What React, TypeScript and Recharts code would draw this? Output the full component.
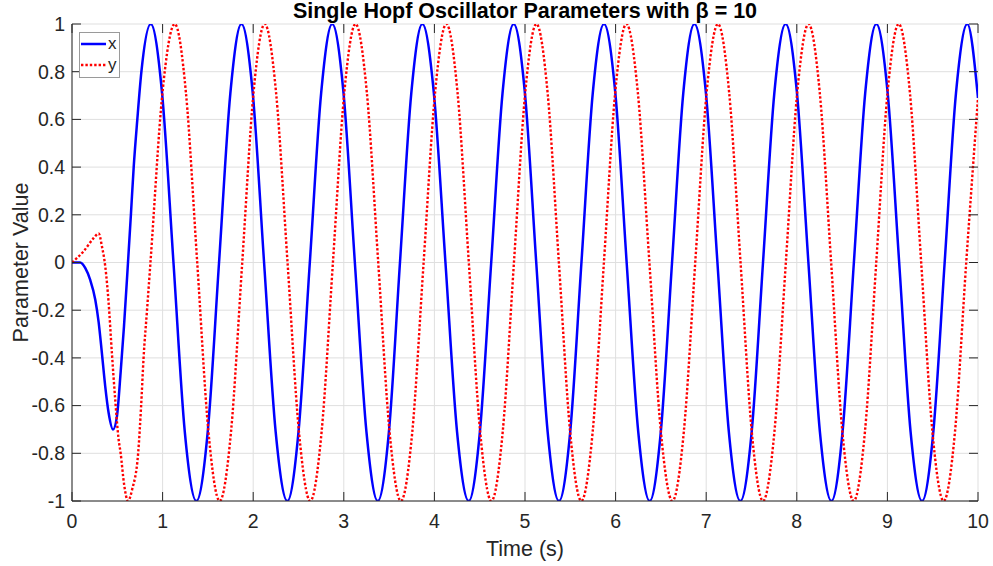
import { LineChart, Line, XAxis, YAxis, CartesianGrid, Legend, Label } from "recharts";

// [time (s), value]
const xSeries: [number, number][] = [
  [0, 0], [0.09, 0], [0.147, -0.024], [0.2, -0.072], [0.257, -0.156], [0.294, -0.25],
  [0.33, -0.38], [0.367, -0.52], [0.404, -0.63], [0.453, -0.7], [0.496, -0.645],
  [0.537, -0.46], [0.574, -0.267], [0.618, 0], [0.65, 0.2], [0.681, 0.4], [0.721, 0.6],
  [0.766, 0.8], [0.869, 1],
  [0.994, 0.71], [1.12, 0], [1.245, -0.71], [1.373, -1], [1.498, -0.71], [1.623, 0], [1.748, 0.71], [1.87, 1],
  [1.995, 0.71], [2.12, 0], [2.248, -0.71], [2.377, -1], [2.5, -0.71], [2.625, 0], [2.75, 0.71], [2.872, 1],
  [2.997, 0.71], [3.122, 0], [3.25, -0.71], [3.375, -1], [3.498, -0.71], [3.62, 0], [3.745, 0.71], [3.867, 1],
  [3.994, 0.71], [4.122, 0], [4.25, -0.71], [4.379, -1], [4.502, -0.71], [4.627, 0], [4.752, 0.71], [4.875, 1],
  [4.999, 0.71], [5.124, 0], [5.25, -0.71], [5.375, -1], [5.499, -0.71], [5.623, 0], [5.748, 0.71], [5.872, 1],
  [5.997, 0.71], [6.122, 0], [6.25, -0.71], [6.376, -1], [6.499, -0.71], [6.623, 0], [6.747, 0.71], [6.87, 1],
  [6.997, 0.71], [7.124, 0], [7.25, -0.71], [7.377, -1], [7.502, -0.71], [7.627, 0], [7.752, 0.71], [7.877, 1],
  [8.002, 0.71], [8.128, 0], [8.255, -0.71], [8.382, -1], [8.505, -0.71], [8.63, 0], [8.755, 0.71], [8.878, 1],
  [9.003, 0.71], [9.13, 0], [9.256, -0.71], [9.382, -1], [9.507, -0.71], [9.632, 0], [9.757, 0.71], [9.882, 1],
  [10, 0.69],
];

const ySeries: [number, number][] = [
  [0, 0], [0.128, 0.047], [0.24, 0.103], [0.295, 0.122], [0.33, 0.068], [0.367, -0.016],
  [0.404, -0.168], [0.44, -0.378], [0.477, -0.575], [0.514, -0.74], [0.537, -0.8],
  [0.575, -0.93], [0.618, -1], [0.665, -0.95], [0.73, -0.8], [0.763, -0.6], [0.79, -0.4],
  [0.828, -0.2], [0.866, 0],
  [0.998, 0.71], [1.134, 1], [1.258, 0.71], [1.382, 0], [1.506, -0.71], [1.63, -1], [1.755, -0.71], [1.879, 0],
  [2.003, 0.71], [2.127, 1], [2.253, 0.71], [2.379, 0], [2.505, -0.71], [2.63, -1], [2.755, -0.71], [2.88, 0],
  [3.005, 0.71], [3.13, 1], [3.255, 0.71], [3.38, 0], [3.505, -0.71], [3.63, -1], [3.756, -0.71], [3.881, 0],
  [4.007, 0.71], [4.132, 1], [4.256, 0.71], [4.38, 0], [4.505, -0.71], [4.629, -1], [4.754, -0.71], [4.878, 0],
  [5.002, 0.71], [5.126, 1], [5.25, 0.71], [5.374, 0], [5.498, -0.71], [5.622, -1], [5.747, -0.71], [5.871, 0],
  [5.995, 0.71], [6.119, 1], [6.246, 0.71], [6.373, 0], [6.5, -0.71], [6.627, -1], [6.753, -0.71], [6.879, 0],
  [7.004, 0.71], [7.13, 1], [7.254, 0.71], [7.379, 0], [7.503, -0.71], [7.627, -1], [7.753, -0.71], [7.879, 0],
  [8.004, 0.71], [8.13, 1], [8.254, 0.71], [8.379, 0], [8.503, -0.71], [8.628, -1], [8.752, -0.71], [8.877, 0],
  [9.001, 0.71], [9.125, 1], [9.249, 0.71], [9.373, 0], [9.497, -0.71], [9.621, -1], [9.746, -0.71], [9.87, 0],
  [10, 0.69],
];

const timeTicks = [0, 1, 2, 3, 4, 5, 6, 7, 8, 9, 10];
const valueTicks = [-1, -0.8, -0.6, -0.4, -0.2, 0, 0.2, 0.4, 0.6, 0.8, 1];

const title = "Single Hopf Oscillator Parameters with β = 10";
const xLabel = "Time (s)";
const yLabel = "Parameter Value";

const seriesStyle: Record<string, { color: string; dash?: string; width: number }> = {
  x: { color: "#0000ff", width: 2.5 },
  y: { color: "#ff0000", dash: "2.4 2", width: 2.4 },
};

const W = 993;
const H = 566;
const PL = 72;
const PR = 978;
const PT = 24;
const PB = 501;
const TICK = 9;
const INK = "#262626";
const FONT = '"Liberation Sans", Arial, Helvetica, sans-serif';
const TICK_FONT = 19.5;
const LABEL_FONT = 21.5;

const rows = (s: [number, number][]) => s.map(([t, v]) => ({ t, v }));

function TimeTick(props: any) {
  const { x, payload } = props;
  return (
    <g>
      <line x1={x} x2={x} y1={PB} y2={PB - TICK} stroke={INK} />
      <line x1={x} x2={x} y1={PT} y2={PT + TICK} stroke={INK} />
      <text x={x} y={521} dy="0.35em" textAnchor="middle" fill={INK} fontSize={TICK_FONT} fontFamily={FONT}>
        {payload.value}
      </text>
    </g>
  );
}

function ValueTick(props: any) {
  const { y, payload } = props;
  return (
    <g>
      <line x1={PL} x2={PL + TICK} y1={y} y2={y} stroke={INK} />
      <line x1={PR - TICK} x2={PR} y1={y} y2={y} stroke={INK} />
      <text x={PL - 7} y={y} dy="0.35em" textAnchor="end" fill={INK} fontSize={TICK_FONT} fontFamily={FONT}>
        {payload.value}
      </text>
    </g>
  );
}

function LegendBox(props: any) {
  const items = (props.payload || []) as any[];
  return (
    <svg width={41} height={46} style={{ display: "block" }}>
      <rect x={0.5} y={0.5} width={40} height={45} fill="#fff" stroke="#9a9a9a" />
      {items.map((it, i) => {
        const st = seriesStyle[it.value];
        const cy = 12 + i * 21;
        return (
          <g key={it.value}>
            <line x1={2} x2={27} y1={cy} y2={cy} stroke={st.color} strokeWidth={st.width} strokeDasharray={st.dash} />
            <text x={29} y={cy} dy="0.32em" fontSize={17} fontFamily={FONT} fill={INK}>
              {it.value}
            </text>
          </g>
        );
      })}
    </svg>
  );
}

export default function App() {
  return (
    <div style={{ position: "absolute", left: 0, top: 0, width: W, height: H, background: "#fff" }}>
      <LineChart width={W} height={H} margin={{ top: PT, right: W - PR, bottom: 35, left: 12 }}>
        <CartesianGrid stroke="#dfdfdf" />
        <XAxis
          dataKey="t"
          type="number"
          domain={[0, 10]}
          ticks={timeTicks}
          height={30}
          tickLine={false}
          axisLine={{ stroke: INK }}
          tick={<TimeTick />}
          allowDataOverflow
        >
          <Label value={xLabel} position="bottom" offset={10} style={{ fontSize: LABEL_FONT, fill: INK, fontFamily: FONT }} />
        </XAxis>
        <XAxis
          xAxisId="top"
          orientation="top"
          dataKey="t"
          type="number"
          domain={[0, 10]}
          height={0}
          tick={false}
          tickLine={false}
          axisLine={{ stroke: INK }}
        />
        <YAxis
          type="number"
          domain={[-1, 1]}
          ticks={valueTicks}
          width={60}
          tickLine={false}
          axisLine={{ stroke: INK }}
          tick={<ValueTick />}
          allowDataOverflow
        >
          <Label
            value={yLabel}
            angle={-90}
            position="insideLeft"
            offset={8}
            style={{ fontSize: LABEL_FONT, fill: INK, fontFamily: FONT, textAnchor: "middle" }}
          />
        </YAxis>
        <YAxis
          yAxisId="right"
          orientation="right"
          type="number"
          domain={[-1, 1]}
          width={0}
          tick={false}
          tickLine={false}
          axisLine={{ stroke: INK }}
        />
        <Legend
          layout="vertical"
          align="center"
          verticalAlign="middle"
          wrapperStyle={{ left: 79, top: 32, width: 41, height: 46 }}
          content={<LegendBox />}
        />
        <Line
          data={rows(xSeries)}
          dataKey="v"
          name="x"
          type="monotone"
          stroke={seriesStyle.x.color}
          strokeWidth={seriesStyle.x.width}
          dot={false}
          activeDot={false}
          isAnimationActive={false}
        />
        <Line
          data={rows(ySeries)}
          dataKey="v"
          name="y"
          type="monotone"
          stroke={seriesStyle.y.color}
          strokeWidth={seriesStyle.y.width}
          strokeDasharray={seriesStyle.y.dash}
          dot={false}
          activeDot={false}
          isAnimationActive={false}
        />
      </LineChart>
      <svg width={W} height={PT} style={{ position: "absolute", left: 0, top: 0, pointerEvents: "none" }}>
        <text
          x={(PL + PR) / 2}
          y={18}
          textAnchor="middle"
          fontSize={LABEL_FONT}
          fontWeight="bold"
          fontFamily={FONT}
          fill="#000"
        >
          {title}
        </text>
      </svg>
    </div>
  );
}
